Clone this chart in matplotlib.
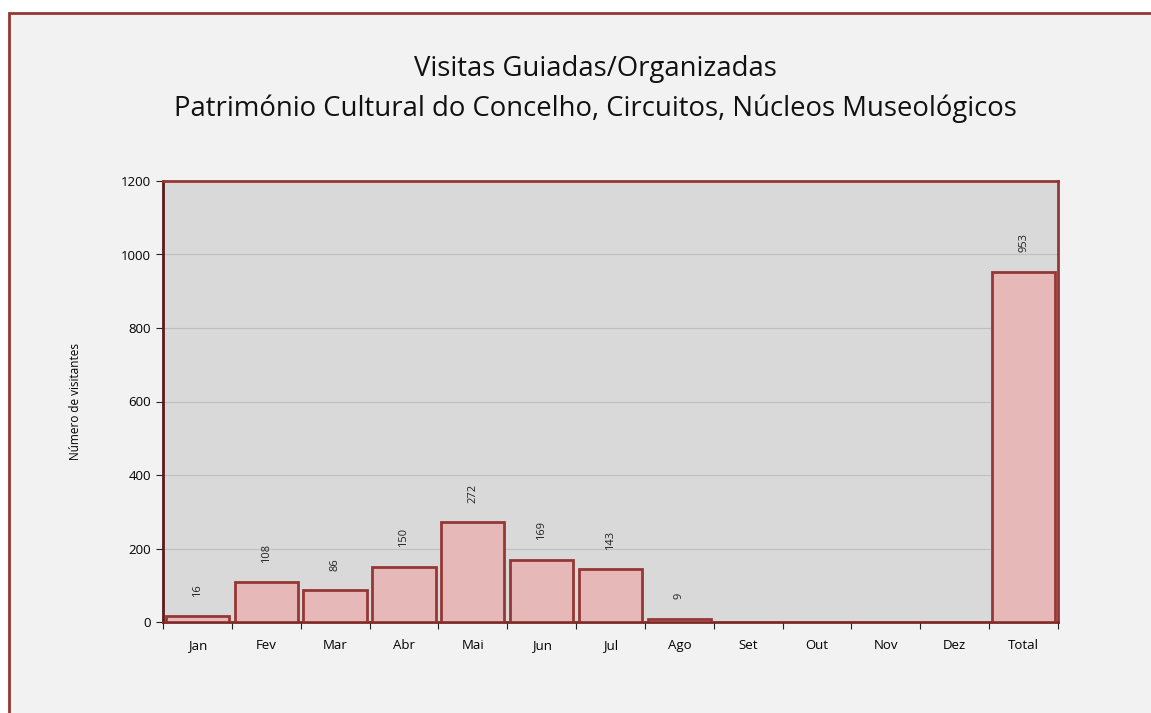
import matplotlib
matplotlib.use('Agg')
import matplotlib.pyplot as plt
import matplotlib.patches as patches

# data
meses = ['Jan', 'Fev', 'Mar', 'Abr', 'Mai', 'Jun', 'Jul', 'Ago', 'Set', 'Out', 'Nov', 'Dez', 'Total']
visitantes = [16, 108, 86, 150, 272, 169, 143, 9, 0, 0, 0, 0, 953]
yticks = [0, 200, 400, 600, 800, 1000, 1200]

titulo = 'Visitas Guiadas/Organizadas\nPatrimónio Cultural do Concelho, Circuitos, Núcleos Museológicos'
ylabel = 'Número de visitantes'

red = '#953735'
fill = '#e6b9b8'

plt.rcParams['font.family'] = ['Open Sans', 'DejaVu Sans']

fig = plt.figure(figsize=(11.51, 7.13), dpi=100)
fig.patch.set_facecolor('white')

# outer chart frame (goes off the right/bottom edges)
frame = patches.Rectangle((9 / 1151, -0.05), 1.2, 1 - 13 / 713 + 0.05,
                          transform=fig.transFigure, facecolor='#f2f2f2',
                          edgecolor=red, linewidth=2, zorder=-5)
fig.patches.append(frame)

ax = fig.add_axes([163 / 1151, 1 - 622 / 713, (1058 - 163) / 1151, (622 - 181) / 713])
ax.set_zorder(2)
ax.set_facecolor('#d9d9d9')

x = list(range(len(meses)))
bars = ax.bar(x, visitantes, width=0.92, color=fill, edgecolor=red, linewidth=2, zorder=3)

for xi, v in zip(x, visitantes):
    if v > 0:
        ax.annotate(str(v), (xi, v), xytext=(0, 14), textcoords='offset points',
                    rotation=90, ha='center', va='bottom', fontsize=8, color='#222222')

ax.set_xlim(-0.5, len(meses) - 0.5)
ax.set_ylim(0, 1200)
ax.set_yticks(yticks)
ax.set_xticks([i - 0.5 for i in range(len(meses) + 1)], minor=False)
ax.set_xticklabels([])
ax.set_xticks(x, minor=True)
ax.set_xticklabels(meses, minor=True)
ax.tick_params(axis='x', which='minor', length=0, pad=12, labelsize=9.5)
ax.tick_params(axis='x', which='major', length=5, direction='out', color='#222222')
ax.tick_params(axis='y', length=5, direction='out', labelsize=9.5, color='#222222')
ax.grid(axis='y', color='#bfbfbf', linewidth=0.8, zorder=1)
ax.set_axisbelow(True)

for s in ['top', 'right']:
    ax.spines[s].set_color(red)
    ax.spines[s].set_linewidth(2)
ax.spines['left'].set_color('#5a1c1a')
ax.spines['left'].set_linewidth(2)
ax.spines['bottom'].set_color('#7a2a28')
ax.spines['bottom'].set_linewidth(2)

ax.set_ylabel(ylabel, fontsize=8.5, labelpad=28)

fig.text(595 / 1151, 1 - 89 / 713, titulo, ha='center', va='center', fontsize=19.8,
         linespacing=1.55, color='#111111')

fig.savefig('out.png', dpi=100, facecolor=fig.get_facecolor())
